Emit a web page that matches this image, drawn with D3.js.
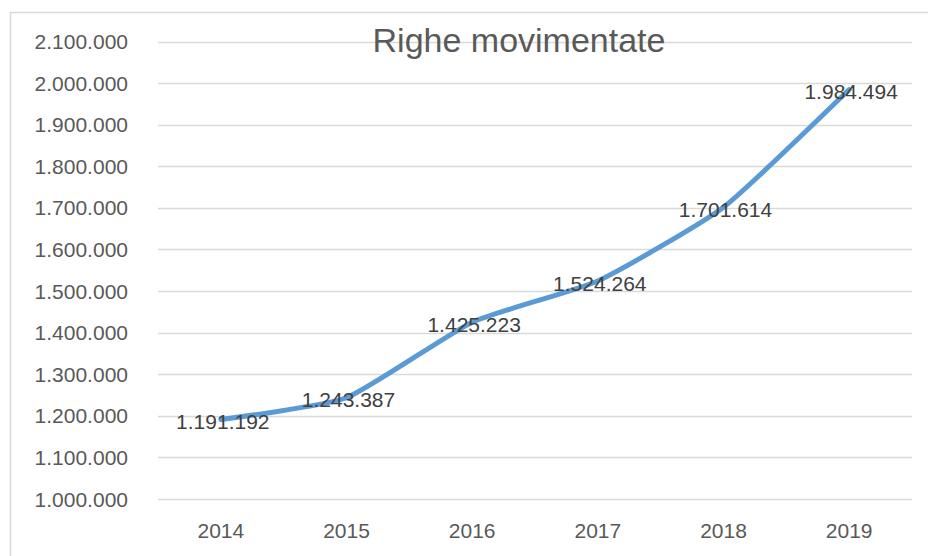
<!DOCTYPE html>
<html>
<head>
<meta charset="utf-8">
<script src="https://cdn.jsdelivr.net/npm/d3@7"></script>
<style>
  body { margin: 0; background: #fff; }
  svg { display: block; font-family: "Liberation Sans", Arial, sans-serif; }
</style>
</head>
<body>
<svg width="928" height="556"></svg>
<script>
const width = 928;
const height = 556;

const years = ["2014", "2015", "2016", "2017", "2018", "2019"];
const righe = [1191192, 1243387, 1425223, 1524264, 1701614, 1984494];
const yTicks = [1000000, 1100000, 1200000, 1300000, 1400000, 1500000,
  1600000, 1700000, 1800000, 1900000, 2000000, 2100000];

const it = d3.formatLocale({ decimal: ",", thousands: ".", grouping: [3], currency: ["€", ""] });
const fmt = it.format(",d");

const svg = d3.select("svg");

// outer frame (cropped on right and bottom)
svg.append("rect")
  .attr("x", 10.5).attr("y", 12.5)
  .attr("width", 940).attr("height", 560)
  .attr("fill", "#fff")
  .attr("stroke", "#d9d9d9")
  .attr("stroke-width", 1.5);

const xScale = d3.scaleBand()
  .domain(years)
  .range([158, 912]);

const yScale = d3.scaleLinear()
  .domain([1000000, 2100000])
  .range([499, 41.5]);

const cx = d => xScale(d) + xScale.bandwidth() / 2;

// gridlines
svg.append("g")
  .selectAll("line")
  .data(yTicks)
  .join("line")
  .attr("x1", 158).attr("x2", 912)
  .attr("y1", d => Math.round(yScale(d)) + 0.5)
  .attr("y2", d => Math.round(yScale(d)) + 0.5)
  .attr("stroke", "#d9d9d9")
  .attr("stroke-width", 1.3);

// y labels
svg.append("g")
  .selectAll("text")
  .data(yTicks)
  .join("text")
  .attr("x", 128)
  .attr("y", d => yScale(d))
  .attr("dy", "0.36em")
  .attr("text-anchor", "end")
  .attr("font-size", 21)
  .attr("fill", "#595959")
  .text(d => fmt(d));

// x labels
svg.append("g")
  .selectAll("text")
  .data(years)
  .join("text")
  .attr("x", d => cx(d))
  .attr("y", 538)
  .attr("text-anchor", "middle")
  .attr("font-size", 21)
  .attr("fill", "#595959")
  .text(d => d);

// title
svg.append("text")
  .attr("x", 519)
  .attr("y", 52)
  .attr("text-anchor", "middle")
  .attr("font-size", 34)
  .attr("fill", "#595959")
  .text("Righe movimentate");

const points = years.map((y, i) => [cx(y), yScale(righe[i])]);

svg.append("path")
  .attr("d", d3.line().curve(d3.curveCardinal.tension(0.5))(points))
  .attr("fill", "none")
  .attr("stroke", "#5b9bd5")
  .attr("stroke-width", 5)
  .attr("stroke-linecap", "round")
  .attr("stroke-linejoin", "round");

// data labels
svg.append("g")
  .selectAll("text")
  .data(years)
  .join("text")
  .attr("x", d => cx(d) + 2)
  .attr("y", (d, i) => yScale(righe[i]) + 2)
  .attr("dy", "0.36em")
  .attr("text-anchor", "middle")
  .attr("font-size", 21)
  .attr("fill", "#404040")
  .text((d, i) => fmt(righe[i]));
</script>
</body>
</html>
